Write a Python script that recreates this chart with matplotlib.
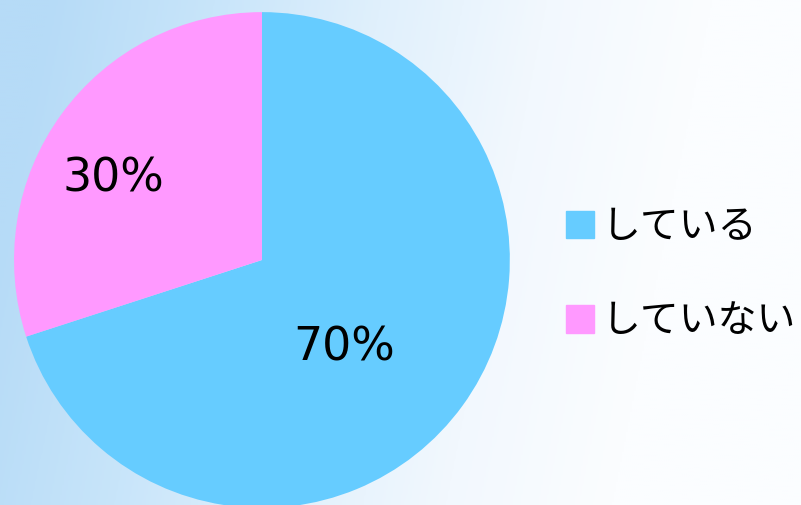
import numpy as np
import matplotlib.pyplot as plt
from matplotlib.colors import LinearSegmentedColormap

labels = ['している', 'していない']
values = [70, 30]
colors = ['#66CCFF', '#FF99FF']

plt.rcParams['font.family'] = ['Noto Sans CJK JP', 'DejaVu Sans']

fig = plt.figure(figsize=(8.01, 5.05), dpi=100)

# background gradient (light blue on the left, almost white on the right)
bg = fig.add_axes([0, 0, 1, 1])
bg_cmap = LinearSegmentedColormap.from_list(
    'bg', ['#b6dbf7', '#c8e5fa', '#e0f0fc', '#f2f8fe', '#fbfdff'])
xx = np.linspace(0, 1, 400)
yy = np.linspace(0, 1, 100)
X, Y = np.meshgrid(xx, yy)
grad = np.clip(X * 1.2 - 0.15 * Y + 0.08, 0, 1)
bg.imshow(grad, cmap=bg_cmap, aspect='auto', extent=[0, 1, 0, 1], origin='lower')
bg.axis('off')

# pie
ax = fig.add_axes([0.0175, -0.0059, 0.619, 0.982])
wedges, texts, autotexts = ax.pie(values, colors=colors, startangle=90,
                                  counterclock=False, radius=1,
                                  autopct='%d%%',
                                  textprops={'fontsize': 33, 'family': 'DejaVu Sans'})
autotexts[0].set_position((0.33, -0.355))
autotexts[1].set_position((-0.60, 0.325))
ax.set_xlim(-1, 1)
ax.set_ylim(-1, 1)
ax.set_aspect('equal')
ax.axis('off')

# legend
handles = [plt.Rectangle((0, 0), 1, 1, color=c) for c in colors]
fig.legend(handles, labels, loc='center left', bbox_to_anchor=(0.706, 0.457),
           frameon=False, fontsize=28, handlelength=0.72, handleheight=0.72,
           handletextpad=0.22, labelspacing=1.4, borderpad=0, borderaxespad=0)

fig.savefig('out.png', dpi=100)
